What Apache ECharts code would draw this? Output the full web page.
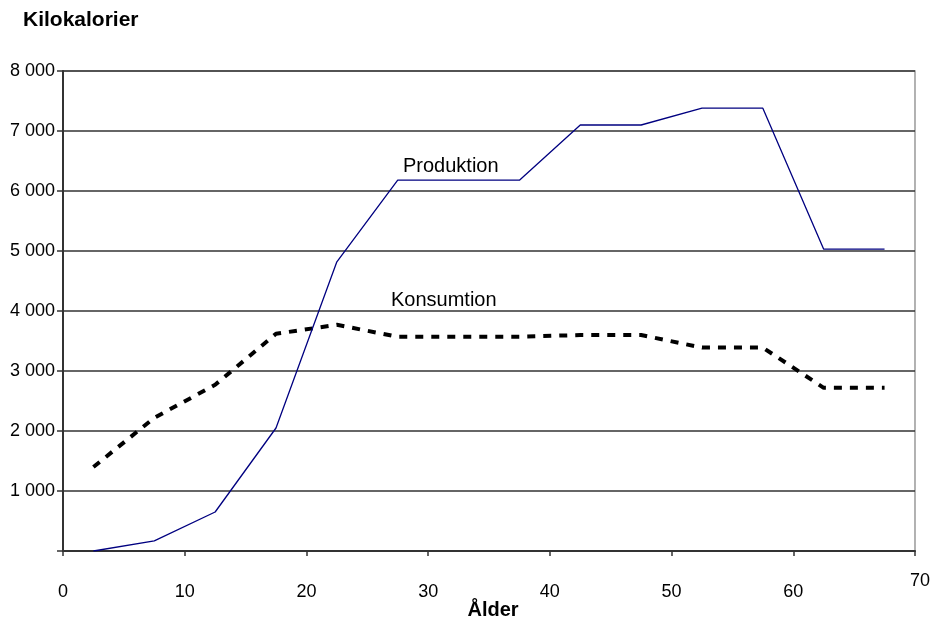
<!DOCTYPE html>
<html>
<head>
<meta charset="utf-8">
<script src="https://cdn.jsdelivr.net/npm/echarts@6/dist/echarts.min.js"></script>
<style>html,body{margin:0;padding:0;background:#fff}#c{width:933px;height:624px}</style>
</head>
<body>
<div id="c"></div>
<script>
// Age midpoints (years)
const ages = [2.5, 7.5, 12.5, 17.5, 22.5, 27.5, 32.5, 37.5, 42.5, 47.5, 52.5, 57.5, 62.5, 67.5];
// Kilocalories
const produktion = [0, 170, 650, 2050, 4820, 6180, 6180, 6180, 7100, 7100, 7380, 7380, 5030, 5030];
const konsumtion = [1400, 2220, 2770, 3620, 3770, 3570, 3570, 3570, 3600, 3600, 3390, 3390, 2720, 2720];
// Axis ticks
const xTicks = [0, 10, 20, 30, 40, 50, 60, 70];
const yTicks = [1000, 2000, 3000, 4000, 5000, 6000, 7000, 8000];
const yTitle = 'Kilokalorier';
const xTitle = 'Ålder';
const seriesNames = ['Produktion', 'Konsumtion'];

const font = 'Liberation Sans, Arial, sans-serif';
const chart = echarts.init(document.getElementById('c'), null, {renderer: 'canvas'});
const fmtNum = v => String(v).replace(/\B(?=(\d{3})+(?!\d))/g, ' ');

chart.setOption({
  animation: false,
  backgroundColor: '#fff',
  grid: {left: 63, right: 16, top: 71, bottom: 73, show: true, borderColor: '#999', borderWidth: 1.5, backgroundColor: 'transparent'},
  title: [
    {text: yTitle, left: 23, top: 10, padding: 0, textStyle: {fontFamily: font, fontWeight: 'bold', fontSize: 21, color: '#000'}},
    {text: xTitle, left: 493, top: 600, padding: 0, textAlign: 'center', textStyle: {fontFamily: font, fontWeight: 'bold', fontSize: 20, color: '#000'}}
  ],
  xAxis: [{
    type: 'value', min: 0, max: 70, interval: 10,
    axisLine: {show: true, onZero: false, lineStyle: {color: '#333', width: 2}},
    axisTick: {show: true, inside: false, length: 5, lineStyle: {color: '#333', width: 1.5}},
    splitLine: {show: false},
    axisLabel: {
      margin: 32, fontFamily: font, fontSize: 18, color: '#000',
      customValues: xTicks.slice(0, -1),
      formatter: v => String(v)
    }
  }, {
    type: 'value', min: 0, max: 70, interval: 10, position: 'bottom',
    axisLine: {show: false}, axisTick: {show: false}, splitLine: {show: false},
    axisLabel: {
      margin: 21, fontFamily: font, fontSize: 18, color: '#000',
      customValues: xTicks.slice(-1), showMaxLabel: true,
      padding: [0, 0, 0, 10],
      formatter: v => String(v)
    }
  }],
  yAxis: {
    type: 'value', min: 0, max: 8000, interval: 1000,
    axisLine: {show: true, lineStyle: {color: '#333', width: 2}},
    axisTick: {show: true, length: 6, lineStyle: {color: '#333', width: 1.5}},
    splitLine: {show: true, lineStyle: {color: '#333', width: 1.5}},
    axisLabel: {
      margin: 8, fontFamily: font, fontSize: 18, color: '#000',
      formatter: v => yTicks.includes(v) ? fmtNum(v) : ''
    }
  },
  series: [
    {
      name: seriesNames[0], type: 'line', xAxisIndex: 0,
      data: ages.map((a, i) => [a, produktion[i]]),
      symbol: 'none', lineStyle: {color: '#000080', width: 1.3},
      z: 3
    },
    {
      name: seriesNames[1], type: 'line', xAxisIndex: 0,
      data: ages.map((a, i) => [a, konsumtion[i]]),
      symbol: 'none', lineStyle: {color: '#000', width: 4, type: [8, 8], cap: 'butt'},
      z: 2
    }
  ],
  graphic: [
    {type: 'text', left: 403, top: 156, style: {text: seriesNames[0], font: '20px ' + font, fill: '#000'}},
    {type: 'text', left: 391, top: 290, style: {text: seriesNames[1], font: '20px ' + font, fill: '#000'}}
  ]
});
</script>
</body>
</html>
